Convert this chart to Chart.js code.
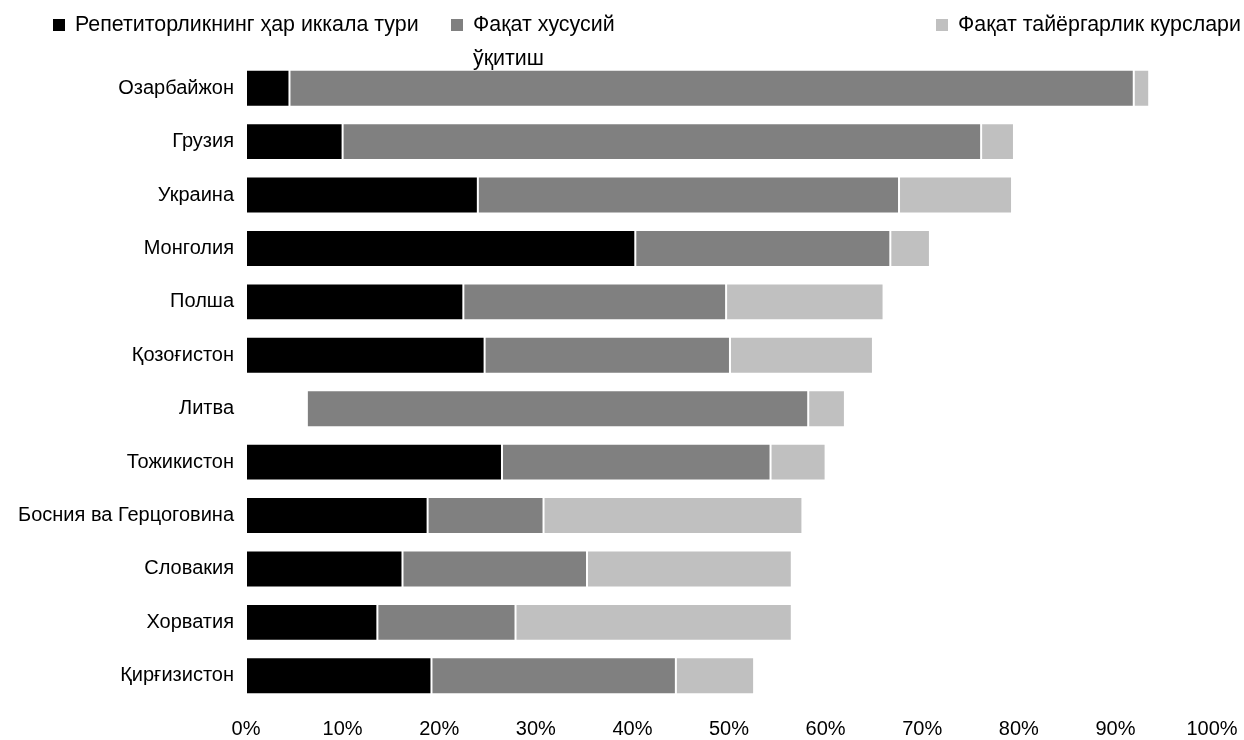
<!DOCTYPE html>
<html>
<head>
<meta charset="utf-8">
<script src="https://cdn.jsdelivr.net/npm/chart.js@4.4.1/dist/chart.umd.min.js"></script>
<style>
  html, body { margin: 0; padding: 0; background: #fff; }
  #wrap { position: relative; width: 1244px; height: 740px; font-family: "Liberation Sans", Arial, sans-serif; }
  #chart { position: absolute; left: 0; top: 0; }
  .lg { position: absolute; font-size: 21.4px; line-height: 34px; color: #000; }
  .lg .sw { position: absolute; left: -22px; top: 12px; width: 12px; height: 12px; }
</style>
</head>
<body>
<div id="wrap">
  <canvas id="chart" width="1244" height="740"></canvas>
  <div id="legend"></div>
</div>
<script>
  // Categories (top to bottom)
  const countries = [
    "Озарбайжон", "Грузия", "Украина", "Монголия", "Полша", "Қозоғистон",
    "Литва", "Тожикистон", "Босния ва Герцоговина", "Словакия", "Хорватия", "Қирғизистон"
  ];

  // Series labels
  const seriesNames = [
    "Репетиторликнинг ҳар иккала тури",
    "Фақат хусусий ўқитиш",
    "Фақат тайёргарлик курслари"
  ];

  // Segment values, %
  const bothTypes   = [4.5, 10.0, 24.0, 40.3, 22.5, 24.7, 6.3, 26.5, 18.8, 16.2, 13.6, 19.2];
  const privateOnly = [87.4, 66.1, 43.6, 26.4, 27.2, 25.4, 51.9, 27.8, 12.0, 19.1, 14.3, 25.3];
  const coursesOnly = [1.6, 3.4, 11.7, 4.1, 16.3, 14.8, 3.8, 5.7, 26.8, 21.2, 28.6, 8.1];

  const xTicks = [0, 10, 20, 30, 40, 50, 60, 70, 80, 90, 100];

  const colors = ["#000000", "#808080", "#c0c0c0"];
  const font = { family: "'Liberation Sans', Arial, sans-serif", size: 20 };

  // Литва has no visible first segment in the source
  const blackColors = countries.map(c => c === "Литва" ? "rgba(0,0,0,0)" : colors[0]);
  const blackBorders = countries.map(c => c === "Литва" ? "rgba(0,0,0,0)" : "#ffffff");

  // HTML legend (second label wraps like the original)
  const legendPos = [
    { left: 75, top: 7, width: 360 },
    { left: 473, top: 7, width: 160 },
    { left: 958, top: 7, width: 290 }
  ];
  const legendEl = document.getElementById("legend");
  seriesNames.forEach((name, i) => {
    const d = document.createElement("div");
    d.className = "lg";
    d.style.left = legendPos[i].left + "px";
    d.style.top = legendPos[i].top + "px";
    d.style.width = legendPos[i].width + "px";
    const sw = document.createElement("span");
    sw.className = "sw";
    sw.style.background = colors[i];
    d.appendChild(sw);
    d.appendChild(document.createTextNode(name));
    legendEl.appendChild(d);
  });

  const ctx = document.getElementById("chart").getContext("2d");
  new Chart(ctx, {
    type: "bar",
    data: {
      labels: countries,
      datasets: [
        { label: seriesNames[0], data: bothTypes, backgroundColor: blackColors, borderColor: blackBorders },
        { label: seriesNames[1], data: privateOnly, backgroundColor: colors[1], borderColor: "#ffffff" },
        { label: seriesNames[2], data: coursesOnly, backgroundColor: colors[2], borderColor: "#ffffff" }
      ]
    },
    options: {
      indexAxis: "y",
      responsive: false,
      animation: false,
      layout: { padding: { top: 61.5, right: 32, left: 0, bottom: 0 } },
      datasets: {
        bar: { borderWidth: 1, categoryPercentage: 1, barPercentage: 0.69, borderSkipped: false }
      },
      plugins: {
        legend: { display: false },
        tooltip: { enabled: false }
      },
      scales: {
        x: {
          stacked: true,
          min: 0,
          max: 100,
          afterBuildTicks: s => { s.ticks = xTicks.map(v => ({ value: v })); },
          afterFit: s => { s.height = 37.5; s.paddingLeft = 0; s.paddingRight = 0; },
          grid: { display: false, drawTicks: false },
          border: { display: false },
          ticks: { color: "#000", font, padding: 15, maxRotation: 0, callback: v => v + "%" }
        },
        y: {
          stacked: true,
          afterFit: s => { s.width = 246; s.paddingTop = 0; s.paddingBottom = 0; },
          grid: { display: false, drawTicks: false },
          border: { display: false },
          ticks: { color: "#000", font, padding: 12 }
        }
      }
    }
  });
</script>
</body>
</html>
